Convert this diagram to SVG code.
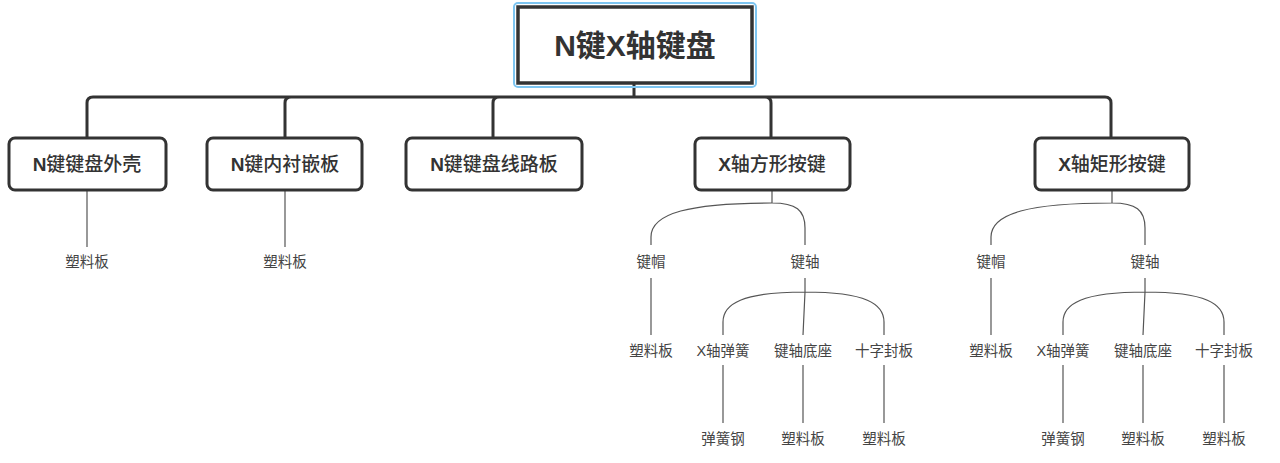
<svg xmlns="http://www.w3.org/2000/svg" width="1280" height="463" viewBox="0 0 1280 463">
<style>
.box{fill:#fff;stroke:#333;stroke-width:3}
.main{fill:none;stroke:#333;stroke-width:3}
.thin{fill:none;stroke:#555;stroke-width:1.2}
.t1{font-family:"Liberation Sans","Noto Sans CJK SC",sans-serif;font-size:19px;font-weight:500;fill:#333;text-anchor:middle}
.t0{font-family:"Liberation Sans","Noto Sans CJK SC",sans-serif;font-size:30px;font-weight:bold;fill:#333;text-anchor:middle}
.t2{font-family:"Liberation Sans","Noto Sans CJK SC",sans-serif;font-size:14.5px;fill:#444;text-anchor:middle}
.lb{font-weight:bold}
</style>
<rect width="1280" height="463" fill="#fff"/>
<g id="connectors">
<path class="main" d="M634,84 V97 M87,137 V103 Q87,97 93,97 H1105 Q1111,97 1111,103 V137 M285,137 V103 Q285,97 291,97 M493,137 V103 Q493,97 499,97 M765,97 Q771,97 771,103 V137"/>
<path class="thin" d="M87,191 V247 M285,191 V247"/>
<g id="sub1">
<path class="thin" d="M772,191 V203 M772,203 C690,203 651,213 651,237 V245 M772,203 C796,203 805,210 805,228 V245 M651,278 V335 M805,278 V292 L803,335 M805,292 C742,292 723,304 723,322 V335 M805,292 C866,292 884,304 884,322 V335 M723,365 V423 M803,365 V423 M884,365 V423"/>
</g>
<g id="sub2" transform="translate(340,0)">
<path class="thin" d="M772,191 V203 M772,203 C690,203 651,213 651,237 V245 M772,203 C796,203 805,210 805,228 V245 M651,278 V335 M805,278 V292 L803,335 M805,292 C742,292 723,304 723,322 V335 M805,292 C866,292 884,304 884,322 V335 M723,365 V423 M803,365 V423 M884,365 V423"/>
</g>
</g>
<g id="root">
<rect x="514" y="3" width="242" height="84" rx="4" fill="none" stroke="#7cc4f0" stroke-width="2"/>
<rect x="518" y="7" width="234" height="76" fill="#fff" stroke="#333" stroke-width="3.5"/>
<text class="t0" x="635" y="56">N键X轴键盘</text>
</g>
<g id="n1"><rect class="box" x="9" y="138" width="157" height="52" rx="6"/><text class="t1" x="87" y="171"><tspan class="lb">N</tspan>键键盘外壳</text></g>
<g id="n2"><rect class="box" x="207" y="138" width="155" height="52" rx="6"/><text class="t1" x="285" y="171"><tspan class="lb">N</tspan>键内衬嵌板</text></g>
<g id="n3"><rect class="box" x="406" y="138" width="176" height="52" rx="6"/><text class="t1" x="494" y="171"><tspan class="lb">N</tspan>键键盘线路板</text></g>
<g id="n4"><rect class="box" x="695" y="138" width="155" height="52" rx="6"/><text class="t1" x="772" y="171"><tspan class="lb">X</tspan>轴方形按键</text></g>
<g id="n5"><rect class="box" x="1035" y="138" width="154" height="52" rx="6"/><text class="t1" x="1112" y="171"><tspan class="lb">X</tspan>轴矩形按键</text></g>
<g id="l1"><text class="t2" x="87" y="267">塑料板</text></g>
<g id="l2"><text class="t2" x="285" y="267">塑料板</text></g>
<g id="a1"><text class="t2" x="651" y="267">键帽</text></g>
<g id="a2"><text class="t2" x="805" y="267">键轴</text></g>
<g id="a3"><text class="t2" x="651" y="356">塑料板</text></g>
<g id="a4"><text class="t2" x="723" y="356">X轴弹簧</text></g>
<g id="a5"><text class="t2" x="803" y="356">键轴底座</text></g>
<g id="a6"><text class="t2" x="884" y="356">十字封板</text></g>
<g id="a7"><text class="t2" x="723" y="444">弹簧钢</text></g>
<g id="a8"><text class="t2" x="803" y="444">塑料板</text></g>
<g id="a9"><text class="t2" x="884" y="444">塑料板</text></g>
<g id="b1"><text class="t2" x="991" y="267">键帽</text></g>
<g id="b2"><text class="t2" x="1145" y="267">键轴</text></g>
<g id="b3"><text class="t2" x="991" y="356">塑料板</text></g>
<g id="b4"><text class="t2" x="1063" y="356">X轴弹簧</text></g>
<g id="b5"><text class="t2" x="1143" y="356">键轴底座</text></g>
<g id="b6"><text class="t2" x="1224" y="356">十字封板</text></g>
<g id="b7"><text class="t2" x="1063" y="444">弹簧钢</text></g>
<g id="b8"><text class="t2" x="1143" y="444">塑料板</text></g>
<g id="b9"><text class="t2" x="1224" y="444">塑料板</text></g>
</svg>
